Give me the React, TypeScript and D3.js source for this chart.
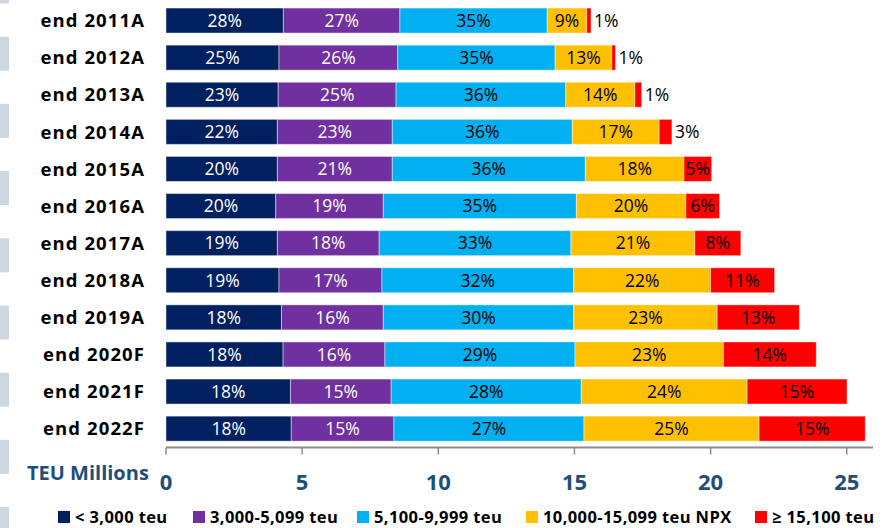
import React from "react";
import * as d3 from "d3";

const categories = [
  "end 2011A", "end 2012A", "end 2013A", "end 2014A", "end 2015A", "end 2016A",
  "end 2017A", "end 2018A", "end 2019A", "end 2020F", "end 2021F", "end 2022F",
];

const seriesNames = [
  "< 3,000 teu",
  "3,000-5,099 teu",
  "5,100-9,999 teu",
  "10,000-15,099 teu NPX",
  "≥ 15,100 teu",
];

// TEU millions per size class
const under3000 = [4.31, 4.15, 4.12, 4.09, 4.09, 4.03, 4.09, 4.15, 4.24, 4.30, 4.57, 4.60];
const s3000to5099 = [4.28, 4.36, 4.33, 4.22, 4.22, 3.95, 3.74, 3.78, 3.74, 3.74, 3.70, 3.77];
const s5100to9999 = [5.41, 5.78, 6.23, 6.61, 7.09, 7.09, 7.04, 7.04, 6.99, 6.98, 6.98, 6.98];
const s10000to15099 = [1.45, 2.08, 2.54, 3.19, 3.62, 4.02, 4.55, 5.03, 5.27, 5.45, 6.09, 6.43];
const over15100 = [0.16, 0.14, 0.25, 0.47, 1.02, 1.24, 1.69, 2.35, 3.02, 3.41, 3.67, 3.90];

// percentage labels as printed
const pctUnder3000 = [28, 25, 23, 22, 20, 20, 19, 19, 18, 18, 18, 18];
const pct3000to5099 = [27, 26, 25, 23, 21, 19, 18, 17, 16, 16, 15, 15];
const pct5100to9999 = [35, 35, 36, 36, 36, 35, 33, 32, 30, 29, 28, 27];
const pct10000to15099 = [9, 13, 14, 17, 18, 20, 21, 22, 23, 23, 24, 25];
const pctOver15100 = [1, 1, 1, 3, 5, 6, 8, 11, 13, 14, 15, 15];

const xTicks = [0, 5, 10, 15, 20, 25];
const axisTitle = "TEU Millions";

const colors = ["#002060", "#7030A0", "#00B0F0", "#FFC000", "#FF0000"];
const labelColors = ["#ffffff", "#ffffff", "#000000", "#000000", "#000000"];

const W = 884;
const H = 528;
const FONT = "'Open Sans', 'Noto Sans', sans-serif";

export default function App() {
  const seriesValues = [under3000, s3000to5099, s5100to9999, s10000to15099, over15100];
  const seriesPct = [pctUnder3000, pct3000to5099, pct5100to9999, pct10000to15099, pctOver15100];
  const keys = seriesNames.map((_, i) => "s" + i);
  const table = categories.map((c, r) => {
    const o: any = { cat: c };
    keys.forEach((k, i) => (o[k] = seriesValues[i][r]));
    return o;
  });
  const stacked = d3.stack<any>().keys(keys)(table);

  const x = d3.scaleLinear().domain([0, 26]).range([166, 874]);
  const y = d3
    .scaleBand<string>()
    .domain(categories)
    .range([2, 2 + 12 * 37.1])
    .paddingInner(0.326)
    .paddingOuter(0.163);
  const bw = y.bandwidth();
  const axisY = 447.5;

  const decoY = d3.range(-1, 8).map((k) => 36.7 + k * 67.2);

  const legendX = [58, 193, 357, 526, 755];

  return (
    <svg
      width={W}
      height={H}
      style={{ position: "absolute", left: 0, top: 0, display: "block", background: "#fff" }}
      fontFamily={FONT}
    >
      {decoY.map((yy, i) => (
        <rect key={"d" + i} x={0} y={yy} width={9} height={34} fill="#CDD7E1" />
      ))}

      {stacked.map((layer, si) => (
        <g key={"layer" + si}>
          {layer.map((d, r) => {
            const x0 = x(d[0]);
            const x1 = x(d[1]);
            const yy = y(categories[r])!;
            const w = x1 - x0;
            const outside = w < 20;
            return (
              <g key={"b" + r}>
                <rect
                  x={x0}
                  y={yy}
                  width={w}
                  height={bw}
                  fill={colors[si]}
                  stroke="#ffffff"
                  strokeOpacity={0.45}
                  strokeWidth={1}
                />
                <text
                  x={outside ? x1 + 3 : (x0 + x1) / 2}
                  y={yy + bw / 2}
                  dy="0.36em"
                  textAnchor={outside ? "start" : "middle"}
                  fontSize={17.5}
                  fill={outside ? "#000" : labelColors[si]}
                >
                  {seriesPct[si][r] + "%"}
                </text>
              </g>
            );
          })}
        </g>
      ))}

      {categories.map((c) => (
        <text
          key={c}
          x={145}
          y={y(c)! + bw / 2}
          dy="0.36em"
          textAnchor="end"
          fontSize={18.5}
          fontWeight="bold"
          letterSpacing={1.1}
          fill="#000"
        >
          {c}
        </text>
      ))}

      <line x1={x(0)} x2={873} y1={axisY} y2={axisY} stroke="#8C8C8C" strokeWidth={2} />
      {xTicks.map((t) => (
        <g key={"t" + t}>
          <line x1={x(t)} x2={x(t)} y1={axisY} y2={axisY + 7} stroke="#8C8C8C" strokeWidth={1.5} />
          <text
            x={x(t)}
            y={490}
            textAnchor="middle"
            fontSize={22}
            fontWeight="bold"
            fill="#1F4E79"
          >
            {t}
          </text>
        </g>
      ))}
      <text x={27} y={480} fontSize={20} fontWeight="bold" fill="#1F4E79">
        {axisTitle}
      </text>

      {seriesNames.map((n, i) => (
        <g key={"lg" + i}>
          <rect x={legendX[i]} y={511} width={12} height={12} fill={colors[i]} />
          <text x={legendX[i] + 17} y={523} fontSize={16.5} fontWeight="bold" letterSpacing={0.4} fill="#000">
            {n}
          </text>
        </g>
      ))}
    </svg>
  );
}
